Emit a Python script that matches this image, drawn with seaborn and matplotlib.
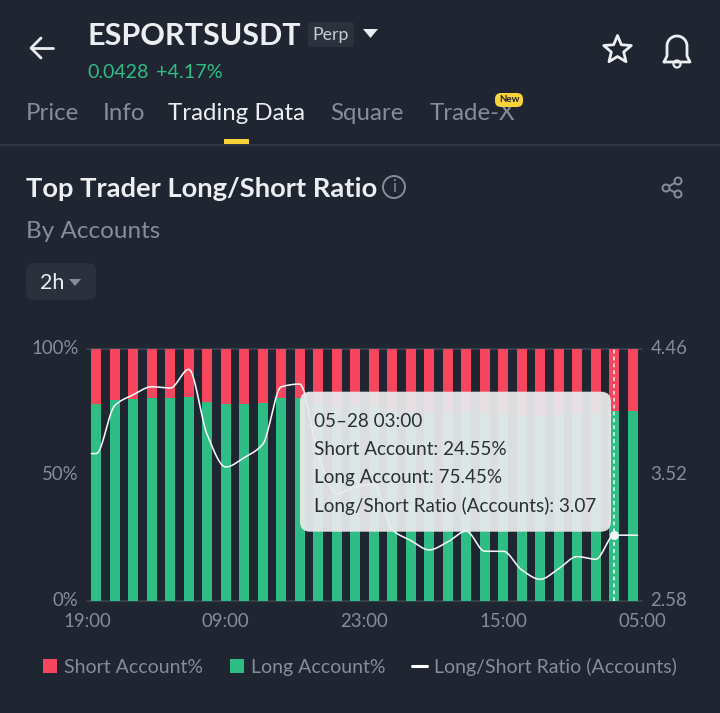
import numpy as np
import pandas as pd
import matplotlib
matplotlib.use("Agg")
import matplotlib.pyplot as plt
from matplotlib.patches import FancyBboxPatch, Polygon, Circle, Rectangle
from matplotlib.lines import Line2D
from matplotlib.transforms import ScaledTranslation
import seaborn as sns

# ---------- data ----------
times = [t.strftime("%m-%d %H:%M") for t in pd.date_range("2025-05-25 19:00", periods=30, freq="2h")]
long_pct = [78.2, 79.8, 80.4, 80.6, 80.6, 81.2, 79.2, 78.1, 78.4, 78.8,
            80.6, 80.8, 78.6, 77.2, 77.4, 77.5, 75.7, 75.2, 74.7, 75.1,
            75.6, 74.7, 74.7, 73.8, 73.3, 73.8, 74.4, 74.3, 75.45, 75.45]
ratio = [3.68, 4.04, 4.12, 4.18, 4.17, 4.31, 3.82, 3.58, 3.65, 3.75,
         4.18, 4.20, 3.67, 3.38, 3.43, 3.45, 3.11, 3.03, 2.96, 3.02,
         3.10, 2.95, 2.95, 2.81, 2.74, 2.82, 2.91, 2.89, 3.07, 3.07]
x_labels = ["19:00", "09:00", "23:00", "15:00", "05:00"]
pct_labels = ["0%", "50%", "100%"]
ratio_labels = ["2.58", "3.52", "4.46"]
series_names = ["Short Account%", "Long Account%", "Long/Short Ratio (Accounts)"]

BG = "#1f2631"; GREY = "#858d9b"; LIGHT = "#eceef1"
RED = "#f6465d"; GREEN = "#2ebd85"
W, H = 720, 713

sns.set_theme(style="dark")
FONT = ["Lato", "DejaVu Sans"]
plt.rcParams["font.family"] = FONT

fig = plt.figure(figsize=(W / 100, H / 100), dpi=100, facecolor=BG)

def box(l, t, r, b):
    return [l / W, 1 - b / H, (r - l) / W, (b - t) / H]

# ---------- chart ----------
ax = fig.add_axes(box(87, 349.3, 642, 600.7), facecolor=BG)
df = pd.DataFrame({"time": times, "long": long_pct, "ratio": ratio})
df["short"] = 100 - df["long"]
sns.barplot(df, x="time", y="long", color=GREEN, saturation=1, width=0.52, linewidth=0, ax=ax, zorder=2)
sns.barplot(df, x="time", y="short", bottom=df["long"], color=RED, saturation=1, width=0.52, linewidth=0, ax=ax, zorder=2)
ax.set_xlim(-0.5, 29.5)
ax.set_ylim(0, 100)
ax.set_xlabel(""); ax.set_ylabel("")
ax.grid(False)
for s in ax.spines.values():
    s.set_visible(False)
for yy in (0, 100):
    ax.axhline(yy, color="#3b434f", lw=1.2, zorder=1, clip_on=False)
ax.set_xticks([-0.5, 7, 14.5, 22, 29.5], x_labels)
ax.set_yticks([0, 50, 100], pct_labels)
ax.tick_params(axis="both", length=0, labelcolor=GREY, labelsize=13.4)
ax.tick_params(axis="x", pad=8.5)
ax.tick_params(axis="y", pad=6)

ax2 = ax.twinx()
ax2.set_ylim(2.58, 4.46)
ax2.set_yticks([2.58, 3.52, 4.46], ratio_labels)
ax2.tick_params(axis="y", length=0, labelcolor=GREY, labelsize=13.4, pad=6)
ax2.grid(False)
for s in ax2.spines.values():
    s.set_visible(False)
for lab in list(ax.get_yticklabels()) + list(ax2.get_yticklabels()):
    lab.set_transform(lab.get_transform() + ScaledTranslation(0, 2 / 100, fig.dpi_scale_trans))

# monotone cubic rendering of the ratio series, held flat to the outer bar edges
xi = np.arange(len(ratio), dtype=float)
yi = np.array(ratio)
d = np.diff(yi)
m = np.zeros_like(yi)
for i in range(1, len(yi) - 1):
    if d[i - 1] * d[i] > 0:
        m[i] = 2 * d[i - 1] * d[i] / (d[i - 1] + d[i])
xs, ys = [], []
for i in range(len(yi) - 1):
    t = np.linspace(0, 1, 20, endpoint=False)
    h00 = 2*t**3 - 3*t**2 + 1; h10 = t**3 - 2*t**2 + t
    h01 = -2*t**3 + 3*t**2; h11 = t**3 - t**2
    xs.append(xi[i] + t)
    ys.append(h00*yi[i] + h10*m[i] + h01*yi[i+1] + h11*m[i+1])
xs = np.r_[xi[0] - 0.26, np.concatenate(xs), xi[-1], xi[-1] + 0.26]
ys = np.r_[yi[0], np.concatenate(ys), yi[-1], yi[-1]]
sns.lineplot(x=xs, y=ys, color="#f4f5f6", lw=1.15, ax=ax2, zorder=3, legend=False, sort=False)
ax2.set_xlabel(""); ax2.set_ylabel("")
ax2.set_xlim(-0.5, 29.5)
ax2.axvline(28, color="white", lw=1.1, ls=(0, (2.5, 2)), zorder=4)
ax2.plot([28], [ratio[28]], "o", color="#f4f5f6", ms=6.5, mew=0, zorder=5, clip_on=False)

# ---------- overlay in pixel coordinates ----------
ov = fig.add_axes([0, 0, 1, 1], facecolor="none")
ov.set_xlim(0, W); ov.set_ylim(H, 0); ov.axis("off")

def T(x, y, s, size, color=GREY, weight="normal", ha="left", va="center", **k):
    return ov.text(x, y, s, fontsize=size, color=color, fontweight=weight, ha=ha, va=va, **k)

# tooltip
ov.add_patch(FancyBboxPatch((310, 401.7), 291, 120, boxstyle="round,pad=10,rounding_size=10",
                            fc="#e8eaec", ec="none", alpha=0.94, zorder=6))
tip = ["05\u201328 03:00", "Short Account: 24.55%", "Long Account: 75.45%",
       "Long/Short Ratio (Accounts): 3.07"]
for yy, s in zip((421.5, 449.5, 477.5, 505.5), tip):
    T(314, yy, s, 13.6, color="#2a2f38", zorder=7)

# header
T(87, 36, "ESPORTSUSDT", 22, color=LIGHT, weight="bold")
ov.add_patch(FancyBboxPatch((310, 24), 42, 21, boxstyle="round,pad=2,rounding_size=3", fc="#2b323e", ec="none"))
T(331, 35, "Perp", 12.8, color="#c6cad1", ha="center")
ov.add_patch(Polygon([(363, 29), (378, 29), (370.5, 38)], fc=LIGHT, ec="none"))
T(87, 73, "0.0428", 14.1, color=GREEN)
T(156, 73, "+4.17%", 14.3, color=GREEN)
ov.plot([31, 53], [48, 48], color=LIGHT, lw=2)
ov.plot([41, 31, 41], [38, 48, 58], color=LIGHT, lw=2)

# star
ang = np.deg2rad(np.arange(-90, 270, 36))
rad = np.where(np.arange(10) % 2 == 0, 14.5, 6.5)
ov.add_patch(Polygon(np.c_[617.5 + rad*np.cos(ang), 50 + rad*np.sin(ang)], fc="none", ec=LIGHT, lw=2, joinstyle="round"))
# bell
th = np.linspace(np.pi, 0, 30)
bx = np.r_[664, 667, 667 + 10*(1 + np.cos(th)), 687, 690]
by = np.r_[62, 56, 46 - 10*np.sin(th), 56, 62]
ov.plot(np.r_[bx, 664], np.r_[by, 62], color=LIGHT, lw=2)
ov.add_patch(Circle((677, 64), 3.5, fc="none", ec=LIGHT, lw=1.6))

# tabs
for x, s, c in [(26, "Price", GREY), (103, "Info", GREY), (168, "Trading Data", LIGHT),
                (330, "Square", GREY), (430, "Trade-X", GREY)]:
    T(x, 113, s, 17.3, color=c)
ov.add_patch(FancyBboxPatch((497, 95), 24, 10, boxstyle="round,pad=2,rounding_size=6", fc="#f8d33a", ec="none", zorder=4))
T(509, 100, "New", 7, color="#222", ha="center", weight="bold", zorder=5)
ov.add_patch(Rectangle((224, 139), 25, 5, fc="#f8d33a", ec="none"))
ov.plot([0, W], [144.5, 144.5], color="#343b47", lw=1.2)

# titles
T(26, 189, "Top Trader Long/Short Ratio", 19.7, color=LIGHT, weight="bold")
ov.add_patch(Circle((394, 187), 11, fc="none", ec=GREY, lw=1.4))
T(394, 187, "i", 12, color=GREY, ha="center")
T(26, 231, "By Accounts", 17.5, color=GREY)
# share icon
pts = [(666, 188), (678, 181), (678, 194)]
ov.plot([678, 666, 678], [181, 188, 194], color=GREY, lw=1.4)
for p in pts:
    ov.add_patch(Circle(p, 3.5, fc=BG, ec=GREY, lw=1.4, zorder=3))

# interval button
ov.add_patch(FancyBboxPatch((32, 269), 58, 25, boxstyle="round,pad=6,rounding_size=8", fc="#2a313c", ec="none"))
T(40, 283, "2h", 15.4, color=LIGHT)
ov.add_patch(Polygon([(69, 279), (81, 279), (75, 286)], fc=GREY, ec="none"))

# legend
handles = [Line2D([], [], marker="s", ls="", color=RED, ms=9.4, mew=0),
           Line2D([], [], marker="s", ls="", color=GREEN, ms=9.4, mew=0),
           Line2D([], [], color="white", lw=2.2)]
leg = fig.legend(handles, series_names, loc="center left", bbox_to_anchor=(42 / W, 1 - 667 / H), ncol=3,
                 frameon=False, fontsize=14, labelcolor=GREY, handlelength=0.8, handletextpad=0.33,
                 columnspacing=1.34, borderpad=0, borderaxespad=0)

fig.savefig("out.png", dpi=100, facecolor=BG)
